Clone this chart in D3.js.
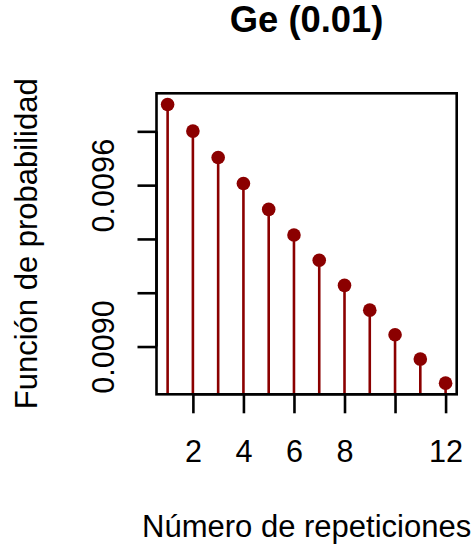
<!DOCTYPE html>
<html>
<head>
<meta charset="utf-8">
<script src="https://cdn.jsdelivr.net/npm/d3@7"></script>
<style>
  html, body { margin: 0; padding: 0; background: #fff; }
  svg { display: block; }
  text { font-family: "Liberation Sans", Arial, Helvetica, sans-serif; fill: #000; }
</style>
</head>
<body>
<svg id="chart" width="474" height="550"></svg>
<script>
// Geometric distribution, p = 0.01: P(X = k) for k = 1..12
const repeticiones = [1, 2, 3, 4, 5, 6, 7, 8, 9, 10, 11, 12];
const probabilidad = [
  0.0099, 0.009801, 0.00970299, 0.0096059601, 0.0095099005, 0.0094148015,
  0.0093206535, 0.0092274469, 0.0091351725, 0.0090438208, 0.0089533826, 0.0088638487
];
const xTicks = [2, 4, 6, 8, 10, 12];
const xTickLabels = ["2", "4", "6", "8", "", "12"];
const yTicks = [0.0090, 0.0092, 0.0094, 0.0096, 0.0098];
const yTickLabels = ["0.0090", "", "", "0.0096", ""];

const titulo = "Ge (0.01)";
const xTitulo = "Número de repeticiones";
const yTitulo = "Función de probabilidad";

const color = "#8B0000";
const lw = 2.6;
const baseFont = 30.6;

const box = { left: 156.5, right: 456.7, top: 93.3, bottom: 394.3 };

// 4% padding on each side of the data range
function padded(ext) {
  const d = (ext[1] - ext[0]) * 0.04;
  return [ext[0] - d, ext[1] + d];
}

const x = d3.scaleLinear().domain(padded(d3.extent(repeticiones))).range([box.left, box.right]);
const y = d3.scaleLinear().domain(padded(d3.extent(probabilidad))).range([box.bottom, box.top]);

const svg = d3.select("#chart");
const data = repeticiones.map((k, i) => ({ k, p: probabilidad[i] }));

// stems
svg.append("g").selectAll("line").data(data).join("line")
  .attr("x1", d => x(d.k)).attr("x2", d => x(d.k))
  .attr("y1", d => y(d.p)).attr("y2", box.bottom)
  .attr("stroke", color).attr("stroke-width", lw);

// points
svg.append("g").selectAll("circle").data(data).join("circle")
  .attr("cx", d => x(d.k)).attr("cy", d => y(d.p))
  .attr("r", 6.8).attr("fill", color);

// frame
svg.append("rect")
  .attr("x", box.left).attr("y", box.top)
  .attr("width", box.right - box.left).attr("height", box.bottom - box.top)
  .attr("fill", "none").attr("stroke", "#000").attr("stroke-width", lw);

const tickLen = 19;

// x axis
const xAxis = d3.axisBottom(x).tickValues(xTicks)
  .tickFormat((d, i) => xTickLabels[i])
  .tickSize(tickLen).tickSizeOuter(0).tickPadding(10);
const gx = svg.append("g").attr("transform", `translate(0,${box.bottom})`).call(xAxis);
gx.select(".domain").attr("d", `M${x(xTicks[0])},0H${x(xTicks[xTicks.length - 1])}`)
  .attr("stroke", "#000").attr("stroke-width", lw);
gx.selectAll(".tick line").attr("stroke", "#000").attr("stroke-width", lw);
gx.selectAll(".tick text")
  .attr("font-size", baseFont).attr("font-family", "Liberation Sans, Arial, sans-serif")
  .attr("fill", "#000").attr("dy", null).attr("y", 68);

// y axis
const yAxis = d3.axisLeft(y).tickValues(yTicks)
  .tickFormat((d, i) => yTickLabels[i])
  .tickSize(tickLen).tickSizeOuter(0);
const gy = svg.append("g").attr("transform", `translate(${box.left},0)`).call(yAxis);
gy.select(".domain").attr("d", `M0,${y(yTicks[0])}V${y(yTicks[yTicks.length - 1])}`)
  .attr("stroke", "#000").attr("stroke-width", lw);
gy.selectAll(".tick line").attr("stroke", "#000").attr("stroke-width", lw);
gy.selectAll(".tick text")
  .attr("font-size", baseFont).attr("font-family", "Liberation Sans, Arial, sans-serif")
  .attr("fill", "#000")
  .attr("x", null).attr("dy", null)
  .attr("text-anchor", "middle")
  .attr("transform", "translate(-43,0) rotate(-90)");

// title
svg.append("text")
  .attr("x", (box.left + box.right) / 2).attr("y", 32)
  .attr("text-anchor", "middle").attr("font-weight", "bold")
  .attr("font-size", 36.4).text(titulo);

// axis titles
svg.append("text")
  .attr("x", (box.left + box.right) / 2).attr("y", 537)
  .attr("text-anchor", "middle").attr("font-size", 31).text(xTitulo);

svg.append("text")
  .attr("transform", `translate(37,${(box.top + box.bottom) / 2}) rotate(-90)`)
  .attr("text-anchor", "middle").attr("font-size", 31).text(yTitulo);
</script>
</body>
</html>
